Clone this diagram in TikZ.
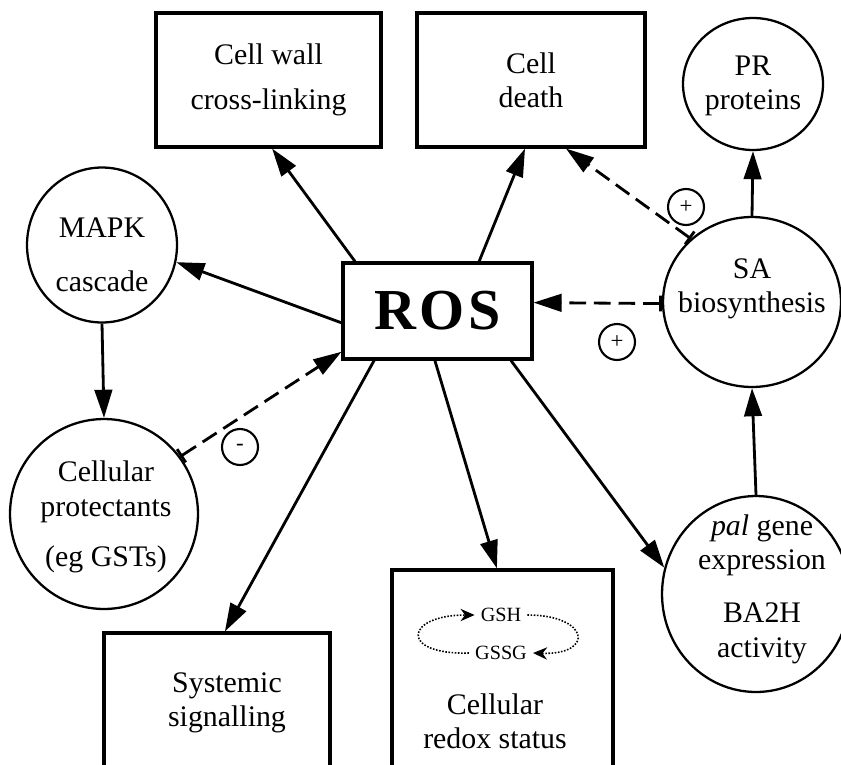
\documentclass[tikz,border=0pt]{standalone}
\usepackage{fontspec}
\setmainfont{Liberation Serif}
\usetikzlibrary{arrows.meta,shapes.geometric}

\begin{document}
\begin{tikzpicture}[x=0.02cm,y=-0.02cm,
		box/.style={draw,line width=1.8pt,rectangle,align=center,inner sep=0pt},
		blob/.style={draw,line width=1.3pt,ellipse,inner sep=0pt},
		txt/.style={align=center,font=\fontsize{17}{19.5}\selectfont},
		sign/.style={draw,circle,line width=1.2pt,minimum size=0.72cm,inner sep=0pt,font=\fontsize{13}{13}\selectfont},
		arr/.style={line width=1.6pt,-{Triangle[length=16pt,width=10pt]}},
		darr/.style={line width=1.6pt,dash pattern=on 9.5pt off 4.5pt,{Bar[width=9pt]}-{Triangle[length=16pt,width=10pt]}},
		dotarr/.style={line width=0.9pt,dash pattern=on 0.9pt off 0.9pt,-{Stealth[length=8pt,width=7pt]}}]
	\useasboundingbox (0,0) rectangle (841,764);
	
	% boxes
	\node[box,txt,minimum width=4.5cm,minimum height=2.68cm] (wall) at (268.5,80) {Cell wall\\[6pt]cross-linking};
	\node[box,txt,minimum width=4.56cm,minimum height=2.68cm] (death) at (531,80) {Cell\\death};
	\node[box,minimum width=3.78cm,minimum height=1.92cm,font=\bfseries\fontsize{33}{36}\selectfont] (ros) at (437.5,311) {R\kern2pt O\kern2pt S};
	\node[box,minimum width=4.52cm,minimum height=2.94cm] (sys) at (217,706.5) {};
	\node[txt] (sys-t) at (227,703) {Systemic\\signalling};
	\node[box,minimum width=4.42cm,minimum height=4.2cm] (redox) at (502.5,675) {};
	\node[txt] (redox-t) at (495,721) {Cellular\\redox status};
	\node[font=\fontsize{11.5}{12}\selectfont] (gsh) at (501,615) {GSH};
	\node[font=\fontsize{11.5}{12}\selectfont] (gssg) at (501,653) {GSSG};
	
	% circles
	\node[blob,minimum width=2.8cm,minimum height=2.64cm] (pr) at (753,84) {};
	\node[txt] (pr-t) at (753,86) {PR\\proteins};
	\node[blob,minimum width=3.0cm,minimum height=3.1cm] (mapk) at (102,245) {};
	\node[txt] (mapk-t) at (102,255) {MAPK\\[11pt]cascade};
	\node[blob,minimum width=3.56cm,minimum height=3.4cm] (sa) at (752,302) {};
	\node[txt] (sa-t) at (752,289) {SA\\biosynthesis};
	\node[blob,minimum width=3.76cm,minimum height=3.8cm] (prot) at (104,514) {};
	\node[txt] (prot-t) at (106,517) {Cellular\\protectants\\[9pt](eg GSTs)};
	\node[blob,minimum width=3.76cm,minimum height=3.92cm] (pal) at (756,594) {};
	\node[txt] (pal-t) at (762,589) {\textit{pal} gene\\expression\\[11pt]BA2H\\activity};
	
	% signs
	\node[sign] (plus1) at (686,207) {+};
	\node[sign] (plus2) at (617,342) {+};
	\node[sign] (minus) at (240,447) {-};
	
	% arrows
	\draw[arr] (ros.149) -- (wall.-87);
	\draw[arr] (ros.50) -- (death.-95);
	\draw[arr] (ros.187) -- (mapk.-13);
	\draw[arr] (ros.-142) -- (sys.84);
	\draw[arr] (ros.-93) -- (redox.93);
	\draw[arr] (ros.-34) -- (pal.164);
	\draw[arr] (mapk.south) -- (prot.north);
	\draw[arr] (sa.north) -- (pr.south);
	\draw[arr] (pal.north) -- (sa.south);
	
	\draw[darr] (prot.37) -- (ros.203);
	\draw[darr] (sa.181) -- (ros.5);
	\draw[darr] (sa.134) -- (death.-63);
	
	\draw[dotarr] (gssg.west) .. controls +(-70,2) and +(-70,0) .. (gsh.west);
	\draw[dotarr] (gsh.east) .. controls +(62,0) and +(62,2) .. (gssg.east);
\end{tikzpicture}
\end{document}
